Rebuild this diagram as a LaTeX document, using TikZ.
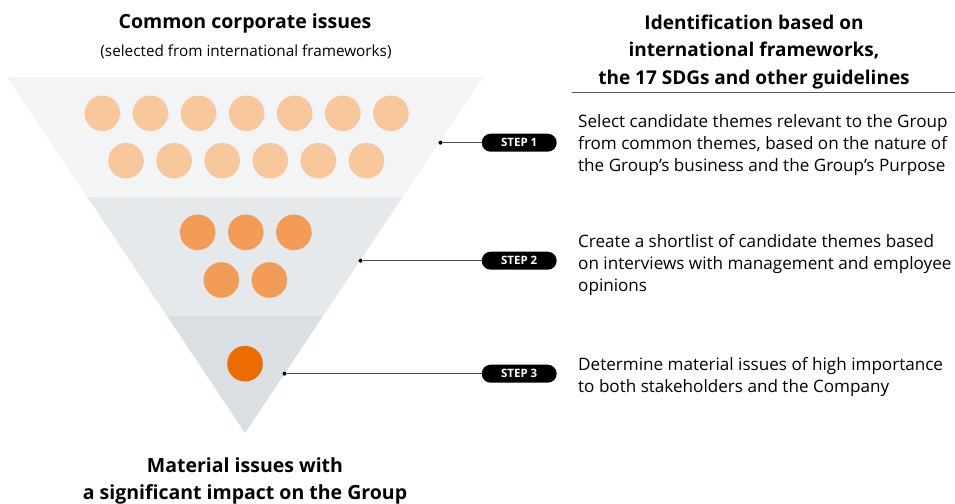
\documentclass[tikz,border=0pt]{standalone}
\usepackage{fontspec}
\setmainfont{Open Sans}
\usetikzlibrary{positioning}
\definecolor{bda}{RGB}{243,244,246}
\definecolor{bdb}{RGB}{230,233,236}
\definecolor{bdc}{RGB}{217,223,226}
\definecolor{clo}{RGB}{248,200,156}
\definecolor{cmd}{RGB}{243,156,85}
\definecolor{cdk}{RGB}{236,108,0}
\definecolor{lnc}{RGB}{70,70,70}
\definecolor{rlc}{RGB}{90,90,90}
\tikzset{
  lc/.style={circle,fill=clo,minimum size=35.6pt,inner sep=0pt},
  mc/.style={circle,fill=cmd,minimum size=35.6pt,inner sep=0pt},
  dc/.style={circle,fill=cdk,minimum size=35.6pt,inner sep=0pt},
  pin/.style={circle,fill=black,minimum size=4pt,inner sep=0pt},
  stp/.style={rectangle,rounded corners=9pt,fill=black,text=white,
    font=\fontsize{11.5}{12}\selectfont\bfseries,
    minimum width=75pt,minimum height=18pt,inner sep=0pt},
  lnk/.style={draw=lnc,line width=1pt},
  hd/.style={font=\fontsize{19.5}{27.5}\selectfont\bfseries,align=center,inner sep=0pt},
  sub/.style={font=\fontsize{15.3}{16}\selectfont,inner sep=0pt},
  txt/.style={font=\fontsize{17.1}{22}\selectfont,align=left,inner sep=0pt,anchor=west},
}

\begin{document}
\begin{tikzpicture}[x=1pt,y=-1pt,node distance=12.1pt]
  \useasboundingbox (0,0) rectangle (955,503);

    % ── Funnel bands ──────────────────────────────────────────────────────────
    \fill[bda] (7,77) -- (483,77) -- (402.7,197) -- (87.3,197) -- cycle;
    \fill[bdb] (87.3,197) -- (402.7,197) -- (323,316) -- (167,316) -- cycle;
    \fill[bdc] (167,316) -- (323,316) -- (245,433) -- cycle;

    % ── Candidate themes ──────────────────────────────────────────────────────
    \node[lc] (a1) at (102.3,113.3) {};
    \node[lc,right=of a1] (a2) {};
    \node[lc,right=of a2] (a3) {};
    \node[lc,right=of a3] (a4) {};
    \node[lc,right=of a4] (a5) {};
    \node[lc,right=of a5] (a6) {};
    \node[lc,right=of a6] (a7) {};
    \node[lc] (b1) at (126,160.7) {};
    \node[lc,right=of b1] (b2) {};
    \node[lc,right=of b2] (b3) {};
    \node[lc,right=of b3] (b4) {};
    \node[lc,right=of b4] (b5) {};
    \node[lc,right=of b5] (b6) {};

    % ── Shortlist ─────────────────────────────────────────────────────────────
    \node[mc] (m1) at (197.7,232.3) {};
    \node[mc,right=of m1] (m2) {};
    \node[mc,right=of m2] (m3) {};
    \node[mc] (n1) at (221.3,280) {};
    \node[mc,right=of n1] (n2) {};

    % ── Material issue ────────────────────────────────────────────────────────
    \node[dc] (k1) at (245,363.7) {};

    % ── Steps ─────────────────────────────────────────────────────────────────
    \node[pin] (d1) at (440.5,142.7) {};
    \node[pin] (d2) at (360.5,260.7) {};
    \node[pin] (d3) at (284.5,373.7) {};
    \node[stp] (s1) at (519.2,142.7) {STEP 1};
    \node[stp] (s2) at (519.2,260.7) {STEP 2};
    \node[stp] (s3) at (519.2,373.7) {STEP 3};

    \draw[lnk] (d1)--(s1);
    \draw[lnk] (d2)--(s2);
    \draw[lnk] (d3)--(s3);

    \node[txt] (t1) at (578,145.5) {Select candidate themes relevant to the Group\\from common themes, based on the nature of\\the Group’s business and the Group’s Purpose};
    \node[txt] (t2) at (578,265.5) {Create a shortlist of candidate themes based\\on interviews with management and employee\\opinions};
    \node[txt] (t3) at (578,377.5) {Determine material issues of high importance\\to both stakeholders and the Company};

    % ── Headings ──────────────────────────────────────────────────────────────
    \node[hd] (h1) at (245,23.5) {Common corporate issues};
    \node[sub] (h2) at (246,51.5) {(selected from international frameworks)};
    \node[hd,font=\fontsize{19}{27.5}\selectfont\bfseries] (h3) at (754,52) {Identification based on\\international frameworks,\\the 17 SDGs and other guidelines};
    \node[hd] (h4) at (245,481) {Material issues with\\a significant impact on the Group};
    \draw[rlc,line width=1pt] (572,92.5) -- (955,92.5);

  \end{tikzpicture}
\end{document}
